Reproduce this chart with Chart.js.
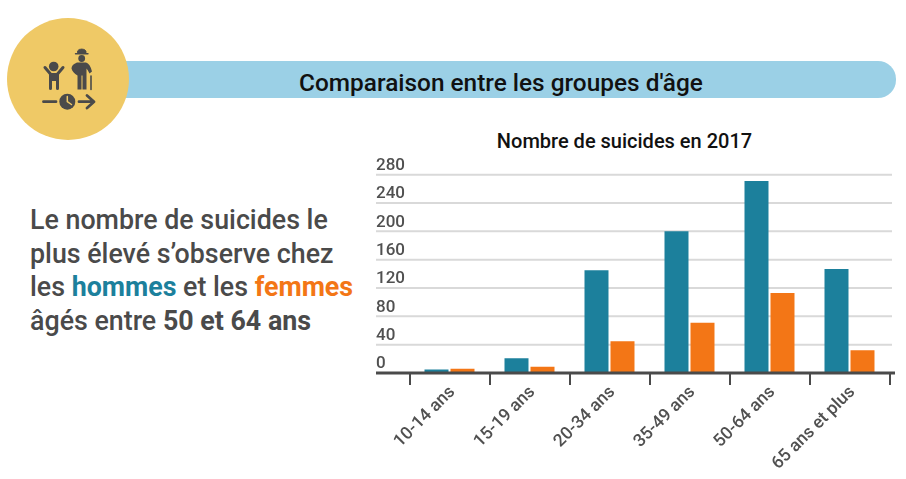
<!DOCTYPE html>
<html lang="fr">
<head>
<meta charset="utf-8">
<title>Comparaison entre les groupes d'âge</title>
<script src="https://cdn.jsdelivr.net/npm/chart.js@4"></script>
<style>
    body { margin: 0; background: #fff; font-family: Roboto, sans-serif; }
    .page { position: relative; width: 906px; height: 479px; overflow: hidden; }
    .banner { position: absolute; left: 100px; top: 61px; width: 796px; height: 37px; background: #9bd0e6; border-radius: 0 18px 18px 0; }
    .banner-title { position: absolute; left: 201px; width: 600px; top: 61px; height: 37px; line-height: 43px; text-align: center; font-size: 24.4px; font-weight: 500; color: #111; }
    .chart-title { position: absolute; left: 424.5px; width: 400px; top: 129px; line-height: 24px; text-align: center; font-size: 20px; font-weight: 500; color: #111; }
    .icon { position: absolute; left: 7px; top: 18px; }
    .intro { position: absolute; left: 30px; top: 204px; margin: 0; font-size: 26.8px; line-height: 33.7px; font-weight: 500; color: #4a4a4a; white-space: nowrap; }
    .intro b { font-weight: 700; }
    .intro .men { color: #1c809c; }
    .intro .women { color: #f37616; }
    #chart { position: absolute; left: 350px; top: 125px; }
</style>
</head>
<body>
<div class="page">
    <div class="banner"></div>
    <div class="banner-title">Comparaison entre les groupes d'âge</div>
    <div class="chart-title">Nombre de suicides en 2017</div>
    <svg class="icon" width="122" height="122" viewBox="7 18 122 122">
        <circle cx="68" cy="79" r="61" fill="#efc966"/>
        <g fill="#4a4a4a" stroke="#4a4a4a" stroke-linecap="round" stroke-linejoin="round">
            <!-- enfant -->
            <circle cx="53.7" cy="66.5" r="4.8" stroke="none"/>
            <path d="M45 67.5 L50.5 74 L50.5 88.5 M63 67.5 L57.5 74 L57.5 88.5" fill="none" stroke-width="3"/>
            <rect x="50" y="73" width="8" height="8" stroke="none"/>
            <!-- homme age -->
            <path d="M77.5 53 v-2 a4.5 3 0 0 1 8.5 0 v2 z" stroke-width="0.8"/>
            <path d="M75.5 53.8 h12.5" fill="none" stroke-width="1.4"/>
            <circle cx="81.7" cy="58.5" r="3.4" stroke="none"/>
            <path d="M77 62.5 h9 q4 1 6 9 l-2.5 2 q-2 -4 -3 -5 v21 h-4 v-14 h-1 v14 h-4 v-14 q-5 -3 -6 -7 q0 -4 5.5 -6 z" stroke="none"/>
            <path d="M91 76 V89.5" fill="none" stroke-width="1.6"/>
            <!-- fleche du temps -->
            <path d="M43.5 101.7 H56 M79 101.7 H93.5 M87 95.5 L94 101.7 L87 108" fill="none" stroke-width="2.8"/>
            <circle cx="67.3" cy="101.7" r="8" stroke="none"/>
            <path d="M67.3 96.5 V101.7 L71.5 104.5" fill="none" stroke="#efc966" stroke-width="1.5"/>
        </g>
    </svg>
    <p class="intro">Le nombre de suicides le<br>plus élevé s’observe chez<br>les <b class="men">hommes</b> et les <b class="women">femmes</b><br>âgés entre <b>50 et 64 ans</b></p>
    <canvas id="chart" width="549" height="348"></canvas>
</div>
<script>
const ageGroups = ['10-14 ans', '15-19 ans', '20-34 ans', '35-49 ans', '50-64 ans', '65 ans et plus'];
const hommes = [5, 21, 145, 200, 271, 147];
const femmes = [6, 9, 45, 71, 113, 32];
const yTicks = [0, 40, 80, 120, 160, 200, 240, 280];

const textColor = '#505050';
const axisColor = '#4a4a4a';

// the rules run past the plot area on both sides, under the y labels
const longRules = {
    id: 'longRules',
    beforeDatasetsDraw(chart) {
        const { ctx, scales: { y } } = chart;
        ctx.save();
        ctx.strokeStyle = '#d9d9d9';
        ctx.lineWidth = 2;
        yTicks.slice(1).forEach(v => {
            ctx.beginPath();
            ctx.moveTo(26, y.getPixelForValue(v));
            ctx.lineTo(542, y.getPixelForValue(v));
            ctx.stroke();
        });
        ctx.restore();
    },
    afterDatasetsDraw(chart) {
        const { ctx, scales: { y } } = chart;
        ctx.save();
        ctx.strokeStyle = axisColor;
        ctx.lineWidth = 3;
        ctx.beginPath();
        ctx.moveTo(26, y.getPixelForValue(0));
        ctx.lineTo(545, y.getPixelForValue(0));
        ctx.stroke();
        ctx.restore();
    }
};

new Chart(document.getElementById('chart'), {
    type: 'bar',
    data: {
        labels: ageGroups,
        datasets: [
            { label: 'Hommes', data: hommes, backgroundColor: '#1c809c' },
            { label: 'Femmes', data: femmes, backgroundColor: '#f37616' }
        ]
    },
    options: {
        responsive: false,
        animation: false,
        datasets: { bar: { categoryPercentage: 0.65, barPercentage: 0.923 } },
        layout: { padding: { left: 26, right: 9.5, top: 49.7 } },
        plugins: {
            legend: { display: false },
            tooltip: { enabled: false },
            title: { display: false }
        },
        scales: {
            x: {
                border: { display: false },
                grid: { drawOnChartArea: false, color: axisColor, lineWidth: 2, tickLength: 12 },
                ticks: {
                    color: textColor,
                    font: { family: 'Roboto', size: 17.5, weight: '500' },
                    minRotation: 45,
                    maxRotation: 45,
                    labelOffset: 3,
                    padding: -3
                },
                afterFit(scale) { scale.height = 100; }
            },
            y: {
                min: 0,
                max: 280,
                border: { display: false },
                grid: { display: false },
                afterBuildTicks(scale) { scale.ticks = yTicks.map(value => ({ value })); },
                ticks: {
                    color: textColor,
                    font: { family: 'Roboto', size: 17, weight: '500' },
                    crossAlign: 'far',
                    labelOffset: -9,
                    padding: 0
                },
                afterFit(scale) { scale.width = 33.5; }
            }
        }
    },
    plugins: [longRules]
});
</script>
</body>
</html>
